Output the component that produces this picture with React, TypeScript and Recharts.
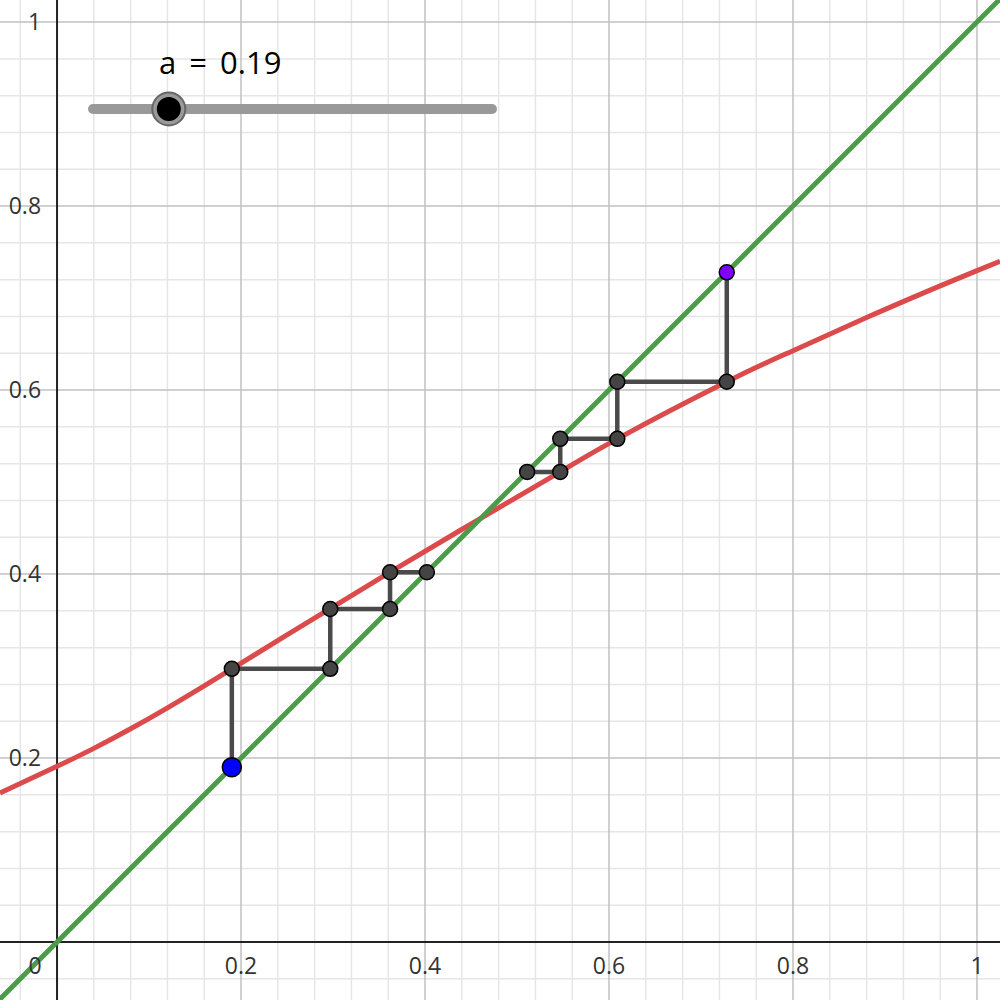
import React from 'react';
import { ComposedChart, Line, Scatter, XAxis, YAxis, ReferenceLine } from 'recharts';

// ---- view window ----
const xDomain: [number, number] = [-0.062, 1.025];
const yDomain: [number, number] = [-0.063, 1.024];

// ---- grid / ticks ----
const majorGrid = [0.2, 0.4, 0.6, 0.8, 1];
const minorGrid = [-0.04, 0.04, 0.08, 0.12, 0.16, 0.24, 0.28, 0.32, 0.36, 0.44, 0.48, 0.52, 0.56, 0.64, 0.68, 0.72, 0.76, 0.84, 0.88, 0.92, 0.96];
const xTickValues = [0, 0.2, 0.4, 0.6, 0.8, 1];
const xTickLabels = ['0', '0.2', '0.4', '0.6', '0.8', '1'];
const yTickValues = [0.2, 0.4, 0.6, 0.8, 1];
const yTickLabels = ['0.2', '0.4', '0.6', '0.8', '1'];

// ---- red curve f(x) ----
const curveX = [-0.062, 0, 0.04, 0.08, 0.12, 0.16, 0.19, 0.296, 0.362, 0.46, 0.547, 0.609, 0.728, 0.8, 0.88, 0.96, 1.0, 1.025];
const curveY = [0.162, 0.191, 0.2105, 0.2318, 0.2546, 0.2785, 0.297, 0.362, 0.402, 0.4603, 0.511, 0.547, 0.609, 0.6428, 0.6788, 0.7132, 0.7298, 0.7399];

// ---- identity line y = x ----
const diagX = [-0.063, 1.025];
const diagY = [-0.063, 1.025];

// ---- cobweb orbits ----
const orbitLeft = [0.19, 0.297, 0.362, 0.402];
const orbitRight = [0.728, 0.609, 0.547, 0.511];

// ---- slider ----
const sliderName = 'a';
const sliderValue = 0.19;
const sliderMin = 0;
const sliderMax = 1;

const curveData = curveX.map((x, i) => ({ x, y: curveY[i] }));
const diagData = diagX.map((x, i) => ({ x, y: diagY[i] }));

function cobwebPath(orbit: number[]) {
  const pts = [{ x: orbit[0], y: orbit[0] }];
  for (let i = 1; i < orbit.length; i++) {
    pts.push({ x: orbit[i - 1], y: orbit[i] });
    pts.push({ x: orbit[i], y: orbit[i] });
  }
  return pts;
}
const leftPath = cobwebPath(orbitLeft);
const rightPath = cobwebPath(orbitRight);
const grayPoints = [...leftPath.slice(1), ...rightPath.slice(1)];
const startBlue = [leftPath[0]];
const startPurple = [rightPath[0]];

const xLabelData = xTickValues.map((x, i) => ({ x, y: 0, label: xTickLabels[i] }));
const yLabelData = yTickValues.map((y, i) => ({ x: 0, y, label: yTickLabels[i] }));

const FONT = '"Open Sans", "Noto Sans", sans-serif';

const XLabel = (p: any) => {
  const isZero = p.payload.x === 0;
  return (
    <text x={isZero ? p.cx - 22 : p.cx} y={p.cy + 32} textAnchor="middle" fontSize={23} fontFamily={FONT} fill="#333">
      {p.payload.label}
    </text>
  );
};
const YLabel = (p: any) => (
  <text x={p.cx - 16} y={p.cy + 8} textAnchor="end" fontSize={23} fontFamily={FONT} fill="#333">
    {p.payload.label}
  </text>
);
const GrayDot = (p: any) => <circle cx={p.cx} cy={p.cy} r={7.5} fill="#444" stroke="#000" strokeWidth={1.5} />;
const BlueDot = (p: any) => <circle cx={p.cx} cy={p.cy} r={9.5} fill="#0000ff" stroke="#000" strokeWidth={1.5} />;
const PurpleDot = (p: any) => <circle cx={p.cx} cy={p.cy} r={7.5} fill="#7f00ff" stroke="#000" strokeWidth={1.5} />;

function Slider() {
  const x1 = 93;
  const x2 = 492;
  const y = 109;
  const kx = x1 + ((sliderValue - sliderMin) / (sliderMax - sliderMin)) * (x2 - x1);
  return (
    <svg width={1000} height={1000} style={{ position: 'absolute', left: 0, top: 0, pointerEvents: 'none' }}>
      <text x={159} y={74} textAnchor="start" fontSize={31} wordSpacing={5} fontFamily={FONT} fill="#000">
        {`${sliderName} = ${sliderValue}`}
      </text>
      <line x1={x1} y1={y} x2={x2} y2={y} stroke="#999" strokeWidth={10} strokeLinecap="round" />
      <circle cx={kx} cy={y} r={16.5} fill="#9a9a9a" stroke="#666" strokeWidth={2} />
      <circle cx={kx} cy={y} r={12} fill="#000" />
    </svg>
  );
}

export default function App() {
  return (
    <div style={{ position: 'absolute', left: 0, top: 0, width: 1000, height: 1000, background: '#fff' }}>
      <ComposedChart width={1000} height={1000} margin={{ top: 0, right: 0, bottom: 0, left: 0 }}>
        <XAxis type="number" dataKey="x" domain={xDomain} allowDataOverflow hide />
        <YAxis type="number" dataKey="y" domain={yDomain} allowDataOverflow hide />
        {minorGrid.map((v) => (
          <ReferenceLine key={'mx' + v} x={v} stroke="#e6e6e6" strokeWidth={1.5} />
        ))}
        {minorGrid.map((v) => (
          <ReferenceLine key={'my' + v} y={v} stroke="#e6e6e6" strokeWidth={1.5} />
        ))}
        {majorGrid.map((v) => (
          <ReferenceLine key={'Mx' + v} x={v} stroke="#c0c0c0" strokeWidth={1.5} />
        ))}
        {majorGrid.map((v) => (
          <ReferenceLine key={'My' + v} y={v} stroke="#c0c0c0" strokeWidth={1.5} />
        ))}
        <ReferenceLine x={0} stroke="#222" strokeWidth={2} />
        <ReferenceLine y={0} stroke="#222" strokeWidth={2} />
        <Scatter data={xLabelData} shape={XLabel} isAnimationActive={false} />
        <Scatter data={yLabelData} shape={YLabel} isAnimationActive={false} />
        <Line data={curveData} dataKey="y" type="natural" stroke="#dc4b4b" strokeWidth={5} dot={false} activeDot={false} isAnimationActive={false} />
        <Line data={diagData} dataKey="y" type="linear" stroke="#4c9a4a" strokeWidth={5} dot={false} activeDot={false} isAnimationActive={false} />
        <Line data={leftPath} dataKey="y" type="linear" stroke="#4a4a4a" strokeWidth={4.5} dot={false} activeDot={false} isAnimationActive={false} />
        <Line data={rightPath} dataKey="y" type="linear" stroke="#4a4a4a" strokeWidth={4.5} dot={false} activeDot={false} isAnimationActive={false} />
        <Scatter data={grayPoints} shape={GrayDot} isAnimationActive={false} />
        <Scatter data={startBlue} shape={BlueDot} isAnimationActive={false} />
        <Scatter data={startPurple} shape={PurpleDot} isAnimationActive={false} />
      </ComposedChart>
      <Slider />
    </div>
  );
}
